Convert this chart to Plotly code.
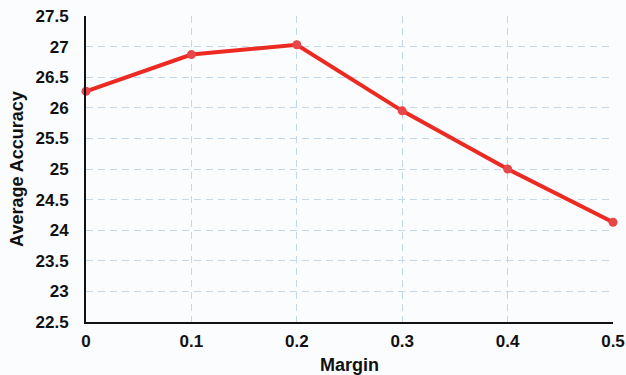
import plotly.graph_objects as go

margins = [0, 0.1, 0.2, 0.3, 0.4, 0.5]
accuracy = [26.27, 26.87, 27.03, 25.95, 25.0, 24.13]
y_ticks = [22.5, 23, 23.5, 24, 24.5, 25, 25.5, 26, 26.5, 27, 27.5]
y_tick_labels = ["22.5", "23", "23.5", "24", "24.5", "25", "25.5", "26", "26.5", "27", "27.5"]
x_ticks = [0, 0.1, 0.2, 0.3, 0.4, 0.5]
x_tick_labels = ["0", "0.1", "0.2", "0.3", "0.4", "0.5"]

font_family = "Liberation Sans, Arial, sans-serif"

fig = go.Figure()
fig.add_trace(go.Scatter(
    x=margins, y=accuracy, mode="lines+markers",
    line=dict(color="#ec2a22", width=4),
    marker=dict(color="#e8474a", size=9),
    cliponaxis=False,
))

fig.update_layout(
    width=626, height=375,
    margin=dict(l=86, r=13, t=16, b=53),
    paper_bgcolor="#fbfcfe", plot_bgcolor="#fbfcfe",
    showlegend=False,
    font=dict(family=font_family, color="#111111"),
)
fig.update_xaxes(
    range=[0, 0.5], tickvals=x_ticks, ticktext=x_tick_labels,
    tickfont=dict(size=17, family=font_family, weight="bold"),
    title=dict(text="<b>Margin</b>", font=dict(size=18), standoff=10),
    showline=True, linecolor="#111111", linewidth=2,
    showgrid=True, gridcolor="#c5d8e8", griddash="7px,5px", gridwidth=1,
    zeroline=False, ticks="", ticklabelstandoff=3, automargin=False,
)
fig.update_yaxes(
    range=[22.5, 27.5], tickvals=y_ticks, ticktext=y_tick_labels,
    tickfont=dict(size=17, family=font_family, weight="bold"),
    title=dict(text="<b>Average Accuracy</b>", font=dict(size=18), standoff=7),
    showline=True, linecolor="#111111", linewidth=2,
    showgrid=True, gridcolor="#c5d8e8", griddash="7px,5px", gridwidth=1,
    zeroline=False, ticks="", ticklabelstandoff=12, automargin=False,
)

fig.write_html(
    "out.html",
    config={"displayModeBar": False},
    post_script="document.body.style.margin='0';document.body.style.background='#fbfcfe';",
)
